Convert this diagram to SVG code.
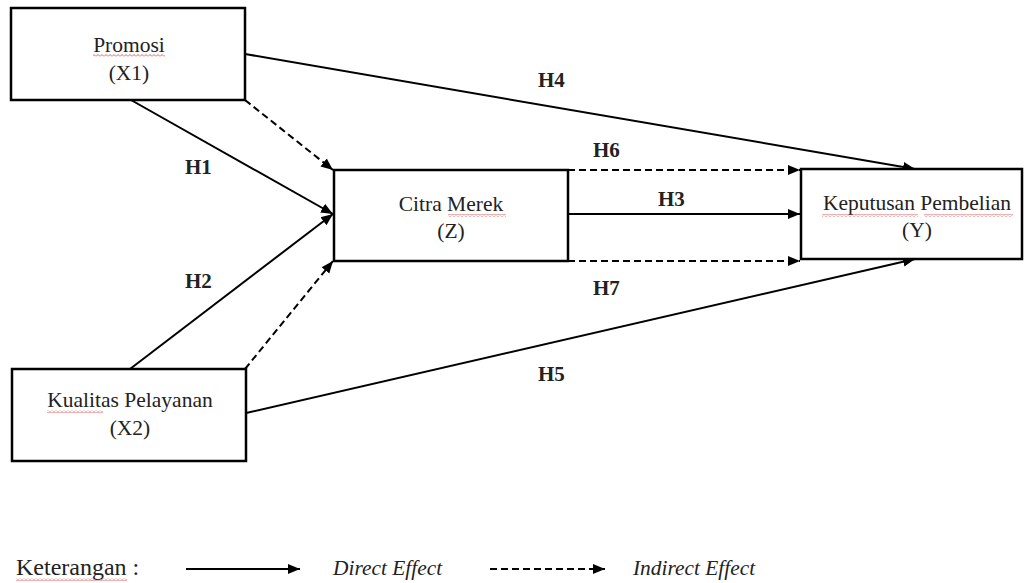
<svg xmlns="http://www.w3.org/2000/svg" width="1025" height="583" viewBox="0 0 1025 583">
<style>
.box{fill:#fff;stroke:#000;stroke-width:2.5}
.lbl{font-family:"Liberation Serif","Times New Roman",serif;font-size:21.5px;fill:#222;text-anchor:middle}
.h{font-family:"Liberation Serif","Times New Roman",serif;font-size:21px;font-weight:bold;fill:#222}
.leg{font-family:"Liberation Serif","Times New Roman",serif;font-size:24px;fill:#222}
.it{font-style:italic;font-size:21.4px}
.ln{fill:none;stroke:#000;stroke-width:2}
.solid{marker-end:url(#ah)}
.dash{stroke-dasharray:7 4;marker-end:url(#ah)}
.sq{fill:url(#wavy)}
</style>
<defs>
<marker id="ah" markerUnits="userSpaceOnUse" markerWidth="14" markerHeight="12" refX="12" refY="6" orient="auto">
<path d="M0,1 L12,6 L0,11 Z" fill="#000"/>
</marker>
<pattern id="wavy" patternUnits="userSpaceOnUse" width="4" height="3">
<path d="M0,2.5 L2,0.5 L4,2.5" fill="none" stroke="#d23c3c" stroke-width="0.8"/>
</pattern>
</defs>
<rect width="1025" height="583" fill="#fff"/>
<g id="connectors">
<line class="ln solid" x1="131" y1="100" x2="333" y2="214"/>
<line class="ln dash" x1="245" y1="100" x2="333" y2="170"/>
<line class="ln solid" x1="130" y1="369" x2="333" y2="214"/>
<line class="ln dash" x1="245" y1="369" x2="333" y2="261"/>
<line class="ln solid" x1="245" y1="54" x2="915" y2="169"/>
<line class="ln solid" x1="246" y1="413" x2="915" y2="259"/>
<line class="ln dash" x1="568" y1="170" x2="800" y2="170"/>
<line class="ln solid" x1="568" y1="214" x2="800" y2="214"/>
<line class="ln dash" x1="568" y1="261" x2="800" y2="261"/>
<text class="h" x="185" y="174">H1</text>
<text class="h" x="185" y="288">H2</text>
<text class="h" x="658" y="206">H3</text>
<text class="h" x="538" y="87">H4</text>
<text class="h" x="538" y="381">H5</text>
<text class="h" x="593" y="157">H6</text>
<text class="h" x="593" y="295">H7</text>
</g>
<g id="node-x1">
<rect class="box" x="11" y="8" width="234" height="92"/>
<text class="lbl" x="129" y="52">Promosi</text>
<rect class="sq" x="93" y="54" width="72" height="3"/>
<text class="lbl" x="129" y="80">(X1)</text>
</g>
<g id="node-x2">
<rect class="box" x="12" y="369" width="234" height="92"/>
<text class="lbl" x="130" y="407">Kualitas Pelayanan</text>
<rect class="sq" x="47" y="410" width="56" height="3"/>
<text class="lbl" x="130" y="435">(X2)</text>
</g>
<g id="node-z">
<rect class="box" x="334" y="170" width="234" height="91"/>
<text class="lbl" x="451" y="211">Citra Merek</text>
<rect class="sq" x="448" y="214" width="58" height="3"/>
<text class="lbl" x="451" y="238">(Z)</text>
</g>
<g id="node-y">
<rect class="box" x="801" y="169" width="221" height="90"/>
<text class="lbl" x="917" y="210">Keputusan Pembelian</text>
<rect class="sq" x="822" y="214" width="96" height="3"/>
<rect class="sq" x="924" y="214" width="89" height="3"/>
<text class="lbl" x="917" y="237">(Y)</text>
</g>
<g id="legend">
<text class="leg" x="16" y="575">Keterangan :</text>
<rect class="sq" x="16" y="578" width="111" height="3"/>
<line class="ln solid" x1="186" y1="569" x2="300" y2="569"/>
<text class="leg it" x="333" y="575">Direct Effect</text>
<line class="ln dash" x1="490" y1="569" x2="605" y2="569"/>
<text class="leg it" x="633" y="575">Indirect Effect</text>
</g>
</svg>
